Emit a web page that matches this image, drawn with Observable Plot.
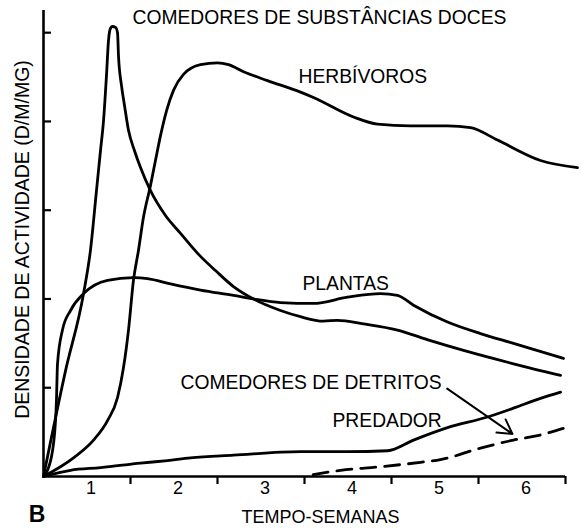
<!DOCTYPE html>
<html>
<head>
<meta charset="utf-8">
<script src="https://cdn.jsdelivr.net/npm/d3@7"></script>
<script src="https://cdn.jsdelivr.net/npm/@observablehq/plot@0.6"></script>
<style>
  html, body { margin: 0; padding: 0; background: #fff; }
  #chart svg { display: block; }
</style>
</head>
<body>
<div id="chart"></div>
<script>
// ---- data (x = weeks, y = activity density units) ----
const doces = [
  [0,0],[0.253,1.19],[0.46,2.06],[0.54,2.55],[0.609,3.22],[0.655,3.67],[0.69,4.01],
  [0.724,4.52],[0.747,4.91],[0.77,5.05],[0.793,5.07],[0.828,5.06],[0.851,5.0],
  [0.862,4.74],[0.897,4.4],[0.931,4.18],[0.977,3.9],[1.046,3.67],[1.115,3.48],
  [1.23,3.22],[1.402,2.94],[1.575,2.74],[1.805,2.48],[1.977,2.32],[2.184,2.14],
  [2.414,2.0],[2.724,1.87],[2.954,1.8],[3.218,1.75],[3.379,1.76],[3.678,1.72],
  [4.069,1.65],[4.448,1.53],[4.828,1.42],[5.402,1.27],[5.943,1.14]
];
const herbivoros = [
  [0,0],[0.345,0.21],[0.575,0.41],[0.736,0.63],[0.851,0.89],[0.92,1.23],[0.977,1.65],
  [1.034,2.21],[1.092,2.55],[1.149,2.92],[1.23,3.28],[1.287,3.56],[1.345,3.84],
  [1.414,4.12],[1.494,4.35],[1.609,4.53],[1.805,4.64],[2.0,4.66],[2.126,4.64],
  [2.299,4.56],[2.575,4.46],[2.954,4.33],[3.103,4.27],[3.563,4.05],[3.839,3.97],
  [4.218,3.95],[4.644,3.95],[4.908,3.93],[5.218,3.79],[5.713,3.56],[6.138,3.48]
];
const plantas = [
  [0,0],[0.046,0.07],[0.115,0.37],[0.149,0.86],[0.161,1.27],[0.218,1.65],[0.31,1.87],
  [0.46,2.06],[0.736,2.21],[1.034,2.24],[1.195,2.23],[1.46,2.17],[1.805,2.1],
  [2.184,2.04],[2.414,2.0],[2.724,1.96],[3.103,1.95],[3.494,2.02],[3.874,2.06],
  [4.069,2.04],[4.253,1.93],[4.644,1.74],[5.023,1.61],[5.402,1.5],[5.977,1.33]
];
const predador = [
  [0,0],[0.31,0.07],[0.655,0.1],[1.115,0.15],[1.425,0.18],[1.69,0.21],[2.184,0.24],
  [2.954,0.28],[3.494,0.28],[3.954,0.29],[4.253,0.41],[4.644,0.55],[5.103,0.67],
  [5.402,0.77],[5.713,0.88],[5.943,0.95]
];
const detritos = [
  [3.1,0.02],[3.414,0.07],[3.874,0.11],[4.333,0.16],[4.563,0.19],[5.023,0.32],
  [5.402,0.41],[5.678,0.46],[6.0,0.55]
];
const xTicks = [1, 2, 3, 4, 5, 6];
const xTickLabels = ["1", "2", "3", "4", "5", "6"];
const yTicks = [1, 2, 3, 4, 5];

const toRows = (arr, name) => arr.map(([x, y]) => ({x, y, name}));
const solidRows = [
  ...toRows(doces, "doces"),
  ...toRows(herbivoros, "herbivoros"),
  ...toRows(plantas, "plantas"),
  ...toRows(predador, "predador")
];
const dashedRows = toRows(detritos, "detritos");
const labelRows = xTickLabels.map((t, i) => ({x: xTicks[i] - 0.5, t}));

const font = "'Liberation Sans', Arial, Helvetica, sans-serif";

const chart = Plot.plot({
  width: 581,
  height: 531,
  marginLeft: 43,
  marginRight: 16,
  marginTop: 10,
  marginBottom: 55,
  style: {fontFamily: font, color: "#000", background: "#fff"},
  x: {domain: [0, 6], axis: null},
  y: {domain: [0, 5.25], axis: null},
  marks: [
    Plot.ruleY([0], {stroke: "#000", strokeWidth: 2.6}),
    Plot.ruleX([0], {stroke: "#000", strokeWidth: 2.6}),
    Plot.axisX(xTicks, {tickSize: 8, tickFormat: () => "", strokeWidth: 2.2, stroke: "#000"}),
    Plot.axisY(yTicks, {anchor: "left", tickSize: 8, dx: 8, tickFormat: () => "", strokeWidth: 2.2, stroke: "#000"}),
    Plot.text(labelRows, {x: "x", y: () => 0, text: "t", dx: 4, dy: 12, fontSize: 18, fill: "#000"}),
    Plot.line(solidRows, {x: "x", y: "y", z: "name", stroke: "#000", strokeWidth: 2.8, curve: "monotone-x"}),
    Plot.line(dashedRows, {x: "x", y: "y", stroke: "#000", strokeWidth: 2.8, strokeDasharray: "15,9", curve: "monotone-x"}),
    Plot.arrow([{x1: 4.64, y1: 0.99, x2: 5.39, y2: 0.48}], {x1: "x1", y1: "y1", x2: "x2", y2: "y2", stroke: "#000", strokeWidth: 2, headLength: 12, bend: false}),
    Plot.text(["COMEDORES DE SUBSTÂNCIAS DOCES"], {x: 1.023, y: 5.17, textAnchor: "start", fontSize: 19.3, fill: "#000"}),
    Plot.text(["HERBÍVOROS"], {x: 2.931, y: 4.5, textAnchor: "start", fontSize: 19.3, fill: "#000"}),
    Plot.text(["PLANTAS"], {x: 2.977, y: 2.17, textAnchor: "start", fontSize: 19.3, fill: "#000"}),
    Plot.text(["COMEDORES DE DETRITOS"], {x: 1.575, y: 1.05, textAnchor: "start", fontSize: 19.3, fill: "#000"}),
    Plot.text(["PREDADOR"], {x: 3.322, y: 0.63, textAnchor: "start", fontSize: 19.3, fill: "#000"}),
    Plot.text(["TEMPO-SEMANAS"], {x: 3.184, y: -0.456, fontSize: 18, fill: "#000"}),
    Plot.text(["B"], {x: -0.075, y: -0.428, fontSize: 23, fontWeight: "bold", fill: "#000"}),
    Plot.text(["DENSIDADE DE ACTIVIDADE (D/M/MG)"], {x: -0.236, y: 2.67, rotate: -90, fontSize: 19.5, fill: "#000"})
  ]
});
document.getElementById("chart").appendChild(chart);
</script>
</body>
</html>
